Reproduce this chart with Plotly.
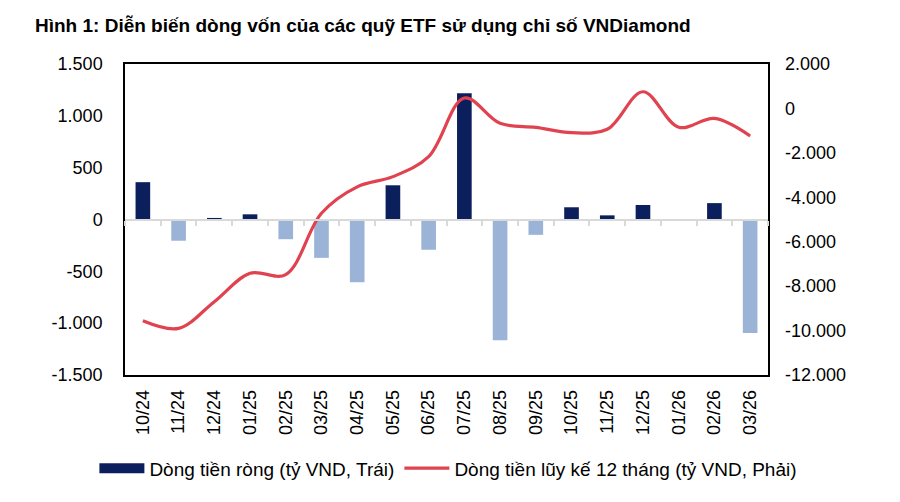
import plotly.graph_objects as go

categories = ["10/24", "11/24", "12/24", "01/25", "02/25", "03/25", "04/25", "05/25", "06/25",
              "07/25", "08/25", "09/25", "10/25", "11/25", "12/25", "01/26", "02/26", "03/26"]
net_flow = [360, -205, 15, 50, -190, -370, -605, 330, -292,
            1218, -1165, -148, 118, 40, 140, 0, 158, -1095]
cum_12m = [-9560, -9900, -8700, -7420, -7480, -4720, -3530, -3070, -2170,
           470, -670, -850, -1090, -940, 750, -850, -450, -1240]

left_ticks = [1500, 1000, 500, 0, -500, -1000, -1500]
right_ticks = [2000, 0, -2000, -4000, -6000, -8000, -10000, -12000]

def fmt(v):
    return f"{v:,}".replace(",", ".")

NAVY = "#0b1f5c"
LIGHT = "#9bb3d7"
RED = "#e04250"
FONT = "Liberation Sans, Arial, sans-serif"

bar_colors = [NAVY if v >= 0 else LIGHT for v in net_flow]

fig = go.Figure()
fig.add_trace(go.Bar(x=categories, y=net_flow, marker=dict(color=bar_colors, line=dict(width=0)),
                     showlegend=False, xaxis="x", yaxis="y", name="Dòng tiền ròng (tỷ VND, Trái)"))
fig.add_trace(go.Scatter(x=categories, y=cum_12m, mode="lines",
                         line=dict(color=RED, width=3.2, shape="spline", smoothing=1.0),
                         showlegend=False, xaxis="x2", yaxis="y2",
                         name="Dòng tiền lũy kế 12 tháng (tỷ VND, Phải)"))
# legend entries
fig.add_trace(go.Scatter(x=[None], y=[None], mode="lines", line=dict(color=NAVY, width=10),
                         name="Dòng tiền ròng (tỷ VND, Trái)", xaxis="x", yaxis="y"))
fig.add_trace(go.Scatter(x=[None], y=[None], mode="lines", line=dict(color=RED, width=3.2),
                         name="Dòng tiền lũy kế 12 tháng (tỷ VND, Phải)", xaxis="x", yaxis="y"))

fig.update_layout(
    width=900, height=502,
    margin=dict(l=117, r=140, t=56, b=135),
    paper_bgcolor="white", plot_bgcolor="white",
    font=dict(family=FONT, color="#000000", size=18),
    bargap=0.59,
    title=dict(text="<b>Hình 1: Diễn biến dòng vốn của các quỹ ETF sử dụng chỉ số VNDiamond</b>",
               x=27/900, xanchor="left", xref="container",
               y=1 - 17/502, yanchor="middle", yref="container",
               font=dict(family=FONT, size=19, color="#000000")),
    xaxis=dict(type="category", categoryorder="array", categoryarray=categories,
               range=[-0.5, 17.5], showline=True, linecolor="#000000", linewidth=1.5, mirror=True,
               ticks="", tickangle=-90, tickfont=dict(size=18), ticklabelstandoff=6,
               showgrid=False, zeroline=False, fixedrange=True),
    xaxis2=dict(type="category", categoryorder="array", categoryarray=categories,
                range=[-0.5, 17.5], overlaying="x", anchor="free", position=0.5,
                showline=True, linecolor="#d9d9d9", linewidth=2, ticks="outside", tickson="boundaries",
                ticklen=5, tickcolor="#d9d9d9", tickwidth=2, showticklabels=False, showgrid=False,
                zeroline=False),
    yaxis=dict(range=[-1500, 1500], tickvals=left_ticks, ticktext=[fmt(v) for v in left_ticks],
               showline=True, linecolor="#000000", linewidth=1.5, mirror=True, ticks="",
               ticklabelstandoff=17, showgrid=False, zeroline=False, tickfont=dict(size=18)),
    yaxis2=dict(range=[-12000, 2000], tickvals=right_ticks, ticktext=[fmt(v) for v in right_ticks],
                overlaying="y", side="right", anchor="x2", showline=False, ticks="",
                ticklabelstandoff=16, showgrid=False, zeroline=False, tickfont=dict(size=18)),
    legend=dict(orientation="h", x=-0.0476, xanchor="left", y=-0.30, yanchor="middle",
                font=dict(size=19), bgcolor="rgba(0,0,0,0)", itemwidth=45, tracegroupgap=0),
)

fig.write_html("out.html")
